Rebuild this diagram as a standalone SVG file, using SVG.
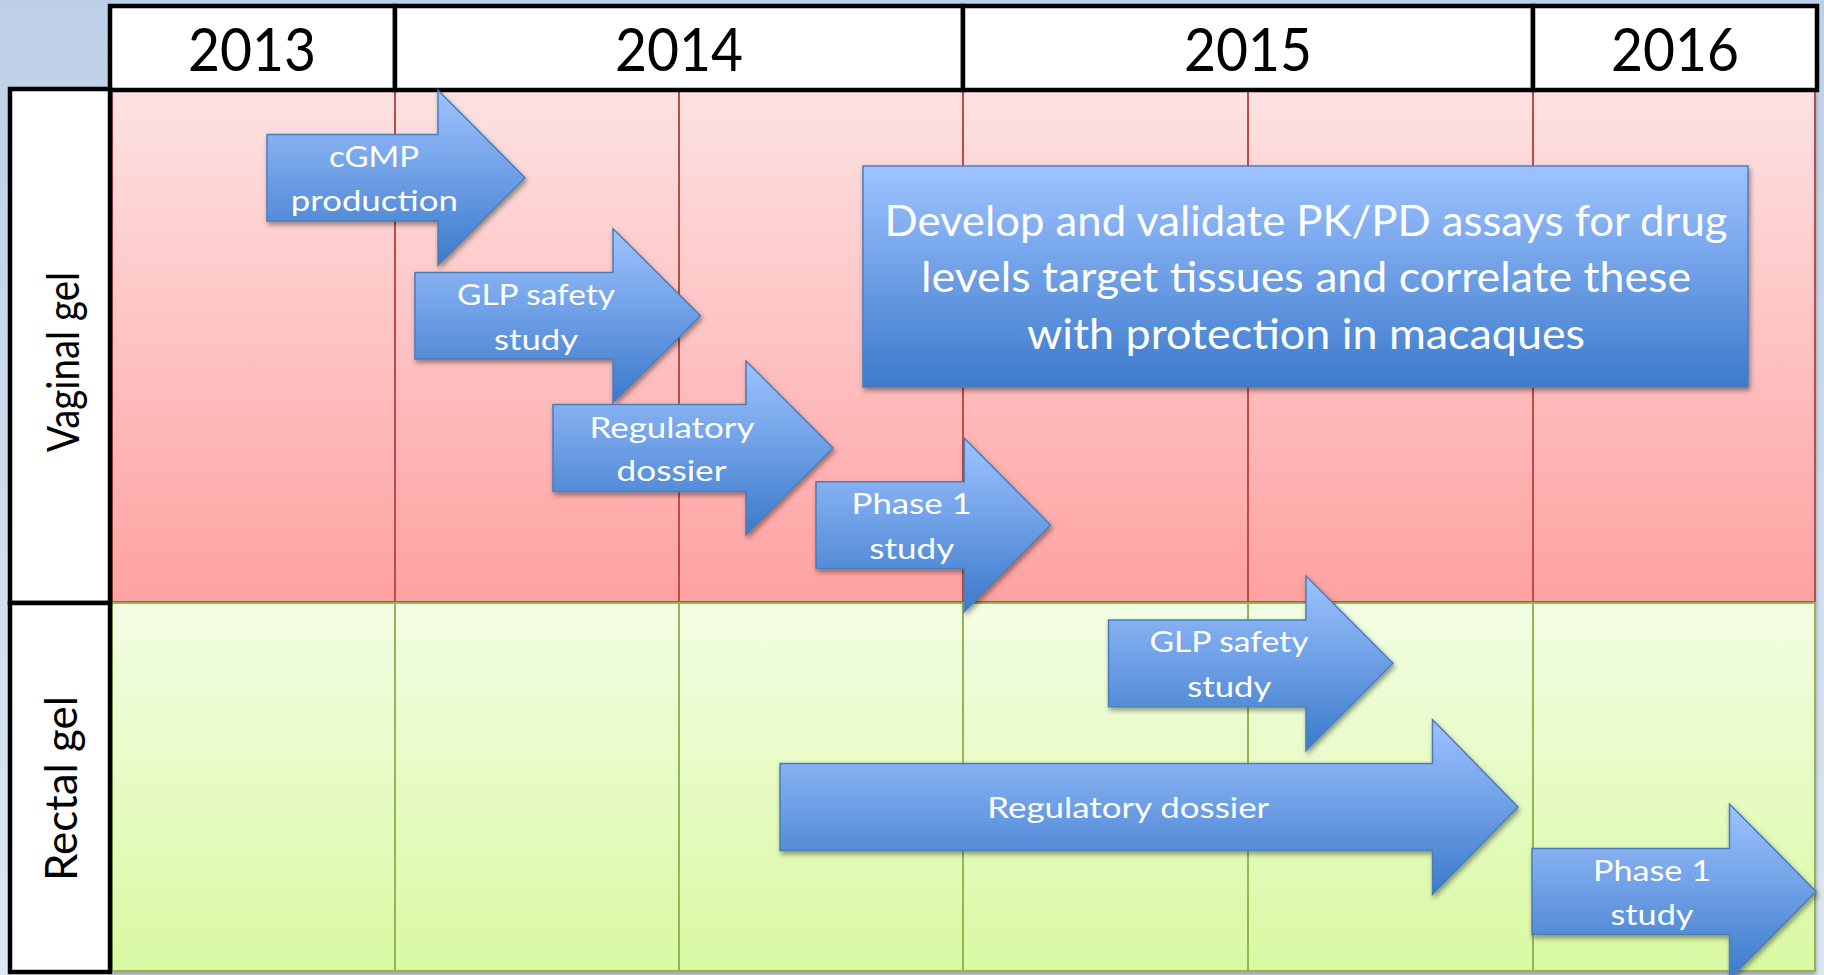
<svg xmlns="http://www.w3.org/2000/svg" width="1824" height="975" viewBox="0 0 1824 975">
<defs>
<linearGradient id="bg" x1="0" y1="0" x2="0" y2="1"><stop offset="0" stop-color="#bdd0e7"/><stop offset="1" stop-color="#dde7f2"/></linearGradient>
<linearGradient id="redLane" gradientUnits="userSpaceOnUse" x1="0" y1="90" x2="0" y2="602"><stop offset="0" stop-color="#fde2e2"/><stop offset="1" stop-color="#ffa1a1"/></linearGradient>
<linearGradient id="greenLane" gradientUnits="userSpaceOnUse" x1="0" y1="604" x2="0" y2="971"><stop offset="0" stop-color="#f3fde4"/><stop offset="1" stop-color="#d9f9a2"/></linearGradient>
<linearGradient id="blue" x1="0" y1="0" x2="0" y2="1"><stop offset="0" stop-color="#9ec3ff"/><stop offset="1" stop-color="#3c7acb"/></linearGradient>
<filter id="shadow" x="-10%" y="-10%" width="130%" height="130%"><feDropShadow dx="1.5" dy="3" stdDeviation="2.5" flood-color="#000" flood-opacity="0.4"/></filter>
<filter id="laneShadow" x="-5%" y="-5%" width="110%" height="115%"><feDropShadow dx="0" dy="3" stdDeviation="2" flood-color="#000" flood-opacity="0.3"/></filter>
<style>
.cellR{fill:url(#redLane);stroke:#bb4b48;stroke-width:2}
.cellG{fill:url(#greenLane);stroke:#93b552;stroke-width:2}
.hdr{fill:#fff;stroke:#000;stroke-width:4.5}
.lbl{fill:#fff;stroke:#000;stroke-width:4.5}
.year{font-family:Lato,"Liberation Sans",sans-serif;font-size:60px;fill:#000;text-anchor:middle}
.lane{font-family:Lato,"Liberation Sans",sans-serif;font-size:45px;fill:#000;text-anchor:middle}
.arrow{fill:url(#blue);stroke:#4a7ebb;stroke-width:1.5;filter:url(#shadow)}
.t{font-family:Lato,"Liberation Sans",sans-serif;font-size:29.5px;fill:#fff;text-anchor:middle}
.tb{font-family:Lato,"Liberation Sans",sans-serif;font-size:42.5px;fill:#fff;text-anchor:middle}
</style>
</defs>
<rect id="background" x="0" y="0" width="1824" height="975" fill="url(#bg)"/>
<g id="lane-vaginal" filter="url(#laneShadow)">
<rect class="cellR" x="112" y="90" width="283" height="512"/>
<rect class="cellR" x="395" y="90" width="284" height="512"/>
<rect class="cellR" x="679" y="90" width="284" height="512"/>
<rect class="cellR" x="963" y="90" width="285" height="512"/>
<rect class="cellR" x="1248" y="90" width="285" height="512"/>
<rect class="cellR" x="1533" y="90" width="282" height="512"/>
</g>
<g id="lane-rectal" filter="url(#laneShadow)">
<rect class="cellG" x="112" y="603" width="283" height="368"/>
<rect class="cellG" x="395" y="603" width="284" height="368"/>
<rect class="cellG" x="679" y="603" width="284" height="368"/>
<rect class="cellG" x="963" y="603" width="285" height="368"/>
<rect class="cellG" x="1248" y="603" width="285" height="368"/>
<rect class="cellG" x="1533" y="603" width="282" height="368"/>
</g>
<g id="header">
<rect class="hdr" x="110" y="6" width="285" height="84"/>
<rect class="hdr" x="395" y="6" width="568" height="84"/>
<rect class="hdr" x="963" y="6" width="570" height="84"/>
<rect class="hdr" x="1533" y="6" width="284" height="84"/>
<text class="year" x="252" y="71" textLength="128" lengthAdjust="spacingAndGlyphs">2013</text>
<text class="year" x="679" y="71" textLength="128" lengthAdjust="spacingAndGlyphs">2014</text>
<text class="year" x="1248" y="71" textLength="128" lengthAdjust="spacingAndGlyphs">2015</text>
<text class="year" x="1675" y="71" textLength="128" lengthAdjust="spacingAndGlyphs">2016</text>
</g>
<g id="label-vaginal">
<rect class="lbl" x="10" y="89" width="100" height="514"/>
<text class="lane" transform="translate(79,362) rotate(-90)" x="0" y="0" textLength="180" lengthAdjust="spacingAndGlyphs">Vaginal gel</text>
</g>
<g id="label-rectal">
<rect class="lbl" x="10" y="603" width="100" height="369"/>
<text class="lane" transform="translate(77,788.5) rotate(-90)" x="0" y="0" textLength="185" lengthAdjust="spacingAndGlyphs">Rectal gel</text>
</g>
<g id="v-cgmp">
<path class="arrow" d="M267,134.5 H438 V90.3 L525,177.7 L438,265.2 V221 H267 Z"/>
<text class="t" x="374" y="167" textLength="90" lengthAdjust="spacingAndGlyphs">cGMP</text>
<text class="t" x="374.3" y="211" textLength="167" lengthAdjust="spacingAndGlyphs">production</text>
</g>
<g id="v-glp">
<path class="arrow" d="M415,272.5 H613 V228.7 L700.5,315.7 L613,402.7 V359 H415 Z"/>
<text class="t" x="536" y="305" textLength="158" lengthAdjust="spacingAndGlyphs">GLP safety</text>
<text class="t" x="536" y="349.5" textLength="84" lengthAdjust="spacingAndGlyphs">study</text>
</g>
<g id="v-regulatory">
<path class="arrow" d="M553,404.5 H746 V361 L833,448 L746,535 V491.5 H553 Z"/>
<text class="t" x="672" y="437.5" textLength="165" lengthAdjust="spacingAndGlyphs">Regulatory</text>
<text class="t" x="671.5" y="481" textLength="110" lengthAdjust="spacingAndGlyphs">dossier</text>
</g>
<g id="v-phase1">
<path class="arrow" d="M816,481.7 H964.3 V438.3 L1050.5,525 L964.3,611.7 V568.5 H816 Z"/>
<text class="t" x="911.6" y="514.3" textLength="120" lengthAdjust="spacingAndGlyphs">Phase 1</text>
<text class="t" x="911.8" y="559" textLength="85" lengthAdjust="spacingAndGlyphs">study</text>
</g>
<g id="v-pkpd">
<rect class="arrow" x="863" y="166" width="885" height="221"/>
<text class="tb" x="1306" y="235.5" textLength="843" lengthAdjust="spacingAndGlyphs">Develop and validate PK/PD assays for drug</text>
<text class="tb" x="1306" y="292" textLength="770" lengthAdjust="spacingAndGlyphs">levels target tissues and correlate these</text>
<text class="tb" x="1306" y="348.5" textLength="558" lengthAdjust="spacingAndGlyphs">with protection in macaques</text>
</g>
<g id="r-glp">
<path class="arrow" d="M1108.5,620 H1306 V576 L1393,663.3 L1306,750.7 V706.7 H1108.5 Z"/>
<text class="t" x="1229" y="652" textLength="159" lengthAdjust="spacingAndGlyphs">GLP safety</text>
<text class="t" x="1229.3" y="696.7" textLength="84" lengthAdjust="spacingAndGlyphs">study</text>
</g>
<g id="r-regulatory">
<path class="arrow" d="M780,763.5 H1432.5 V719.5 L1518,807 L1432.5,894.5 V850.5 H780 Z"/>
<text class="t" x="1128.3" y="818.3" textLength="282" lengthAdjust="spacingAndGlyphs">Regulatory dossier</text>
</g>
<g id="r-phase1">
<path class="arrow" d="M1532,848.5 H1729.5 V804 L1816,891.5 L1729.5,979 V934.5 H1532 Z"/>
<text class="t" x="1652" y="881" textLength="118" lengthAdjust="spacingAndGlyphs">Phase 1</text>
<text class="t" x="1652" y="925" textLength="83" lengthAdjust="spacingAndGlyphs">study</text>
</g>
<g id="connectors"/>
</svg>
